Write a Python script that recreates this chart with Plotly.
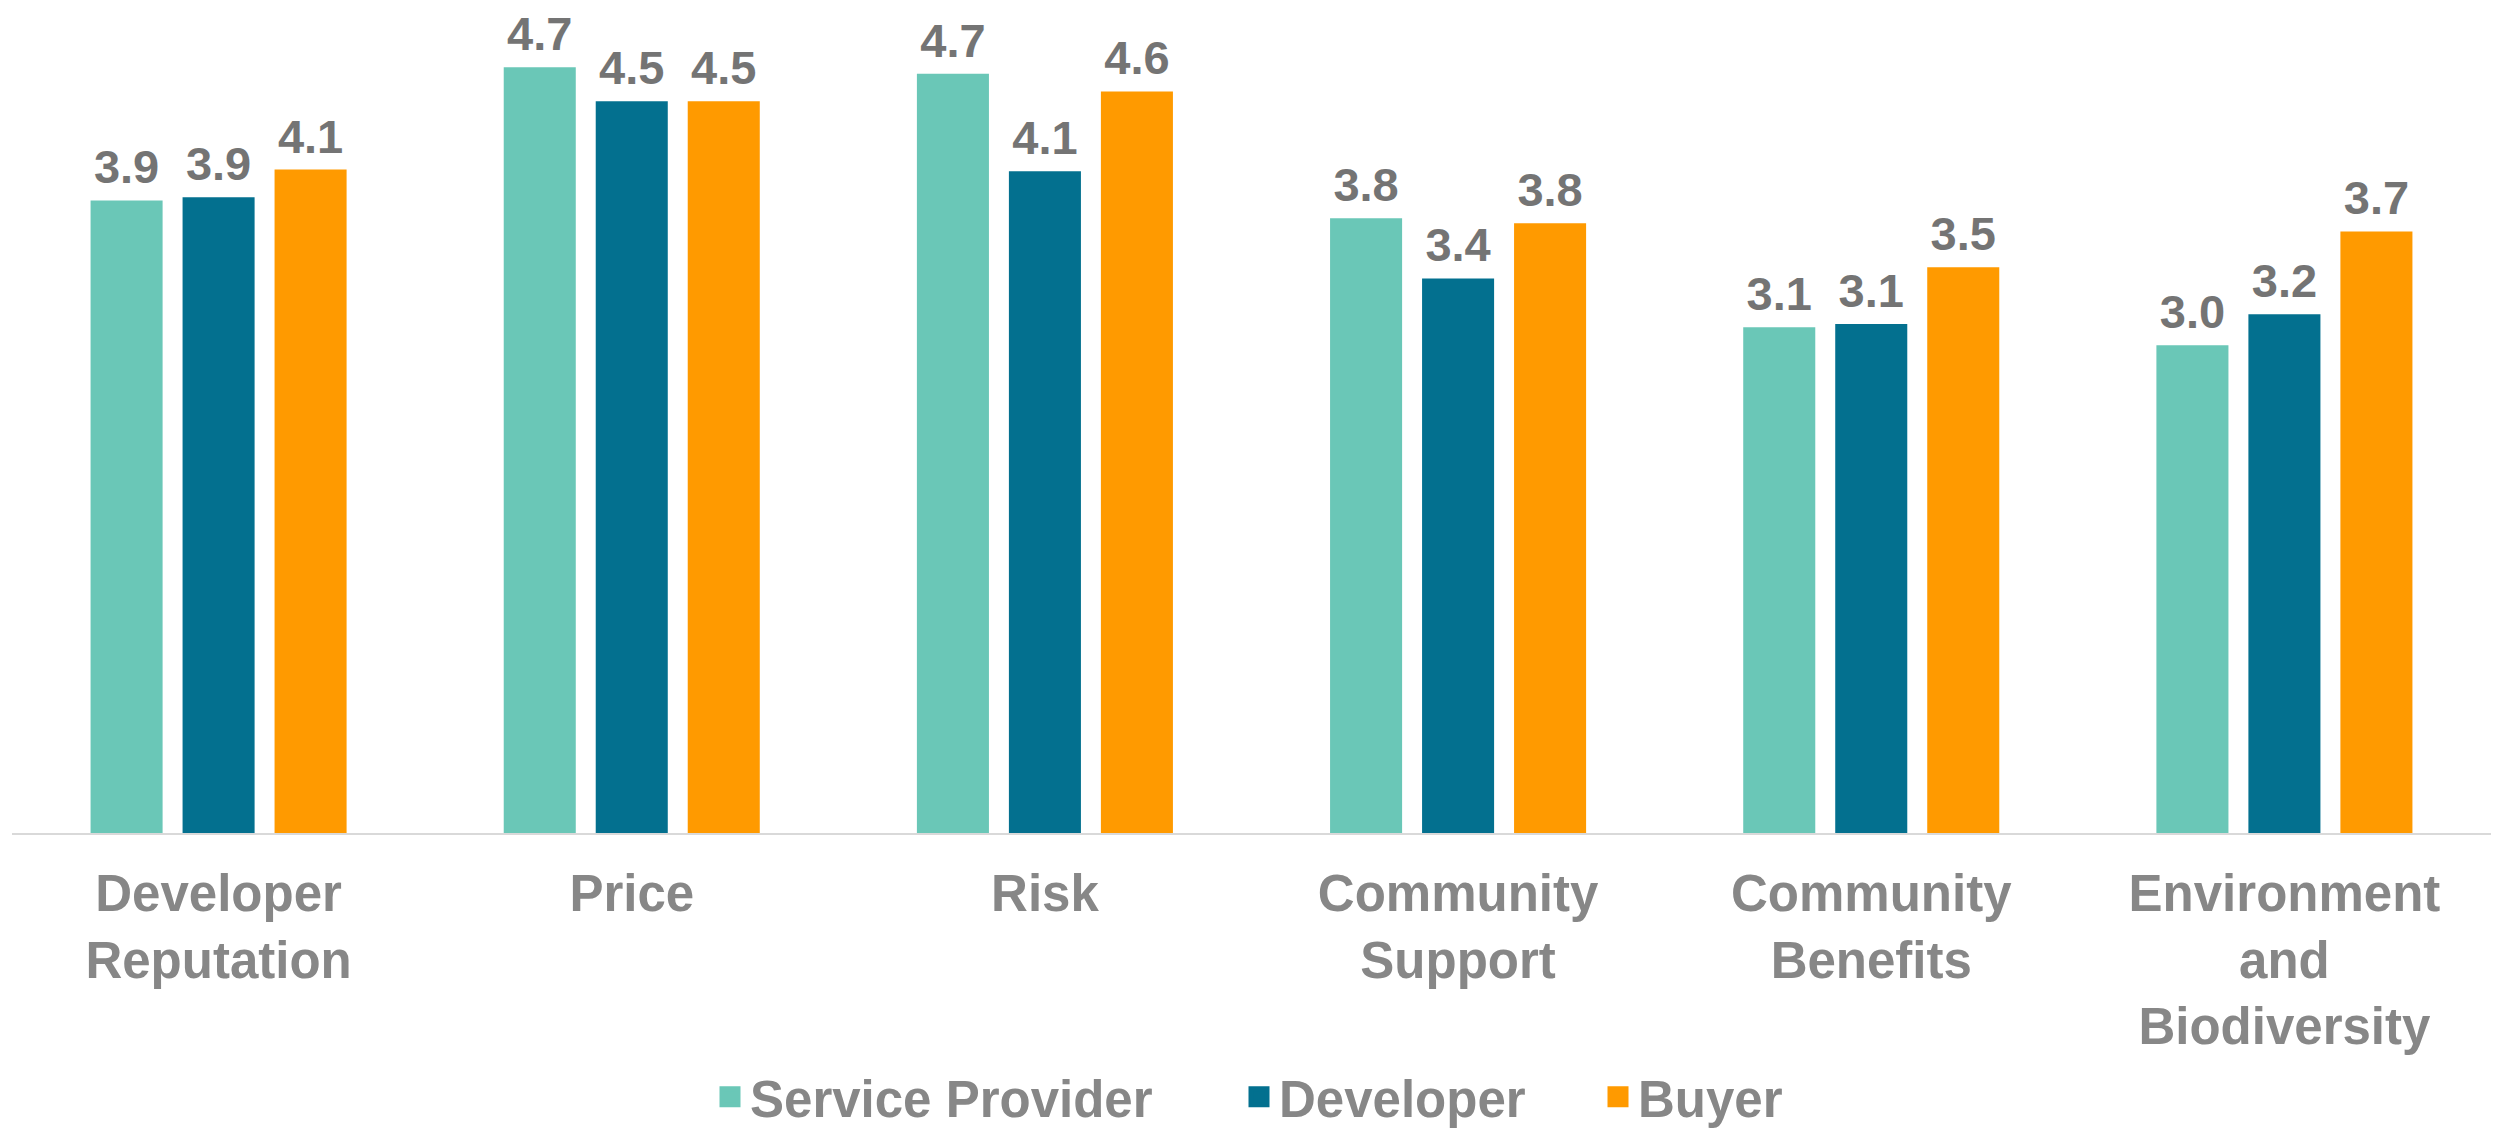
import plotly.graph_objects as go

categories = ["Developer<br>Reputation", "Price", "Risk", "Community<br>Support",
              "Community<br>Benefits", "Environment<br>and<br>Biodiversity"]
service_provider = [3.89, 4.71, 4.67, 3.78, 3.11, 3.00]
developer = [3.91, 4.50, 4.07, 3.41, 3.13, 3.19]
buyer = [4.08, 4.50, 4.56, 3.75, 3.48, 3.70]

series = [("Service Provider", service_provider, "#6AC7B7", 484, "sp"),
          ("Developer", developer, "#03708F", 314, "dev"),
          ("Buyer", buyer, "#FF9A00", 150, "buy")]

FONT = "Liberation Sans, Arial, sans-serif"
LABEL_COLOR = "#747474"
AXIS_COLOR = "#878787"
LABEL_LIFT = 0.025  # extra space between bar top and its value label (axis units)

fig = go.Figure()
for name, vals, color, _, grp in series:
    fig.add_trace(go.Bar(
        x=categories, y=vals, name=name, marker_color=color,
        marker_line_width=0, offsetgroup=grp, showlegend=False,
    ))
    # transparent twin bar carrying the value label, lifted slightly
    fig.add_trace(go.Bar(
        x=categories, y=vals, base=LABEL_LIFT, name=name + " label",
        marker_color="rgba(0,0,0,0)", marker_line_width=0, offsetgroup=grp,
        texttemplate="%{y:.1f}", textposition="outside",
        outsidetextfont=dict(family=FONT, size=47, color=LABEL_COLOR, weight="bold"),
        constraintext="none", cliponaxis=False, showlegend=False,
        hoverinfo="skip",
    ))
# legend entries with larger square swatches
for name, vals, color, lw, grp in series:
    fig.add_trace(go.Scatter(
        x=[None], y=[None], mode="markers", name=name,
        marker=dict(symbol="square", size=16, color=color,
                    line=dict(width=6, color=color)),
        showlegend=True, legendwidth=lw,
    ))

fig.update_layout(
    width=2500, height=1129,
    margin=dict(l=4, r=17, t=12, b=304, autoexpand=False),
    plot_bgcolor="white", paper_bgcolor="white",
    barmode="group", bargap=0.332, bargroupgap=0.217,
    font=dict(family=FONT, color=AXIS_COLOR),
    xaxis=dict(
        showline=True, linecolor="#D9D9D9", linewidth=2, automargin=False,
        showgrid=False, ticks="", ticklabelstandoff=15,
        tickfont=dict(family=FONT, size=51, color=AXIS_COLOR, weight="bold"),
    ),
    yaxis=dict(visible=False, range=[0, 5], showgrid=False, zeroline=False,
               automargin=False),
    legend=dict(
        orientation="h", x=0.5, xanchor="center",
        yref="container", y=0, yanchor="bottom",
        font=dict(family=FONT, size=51, color=AXIS_COLOR, weight="bold"),
        itemclick=False,
    ),
)

fig.write_html("out.html")
